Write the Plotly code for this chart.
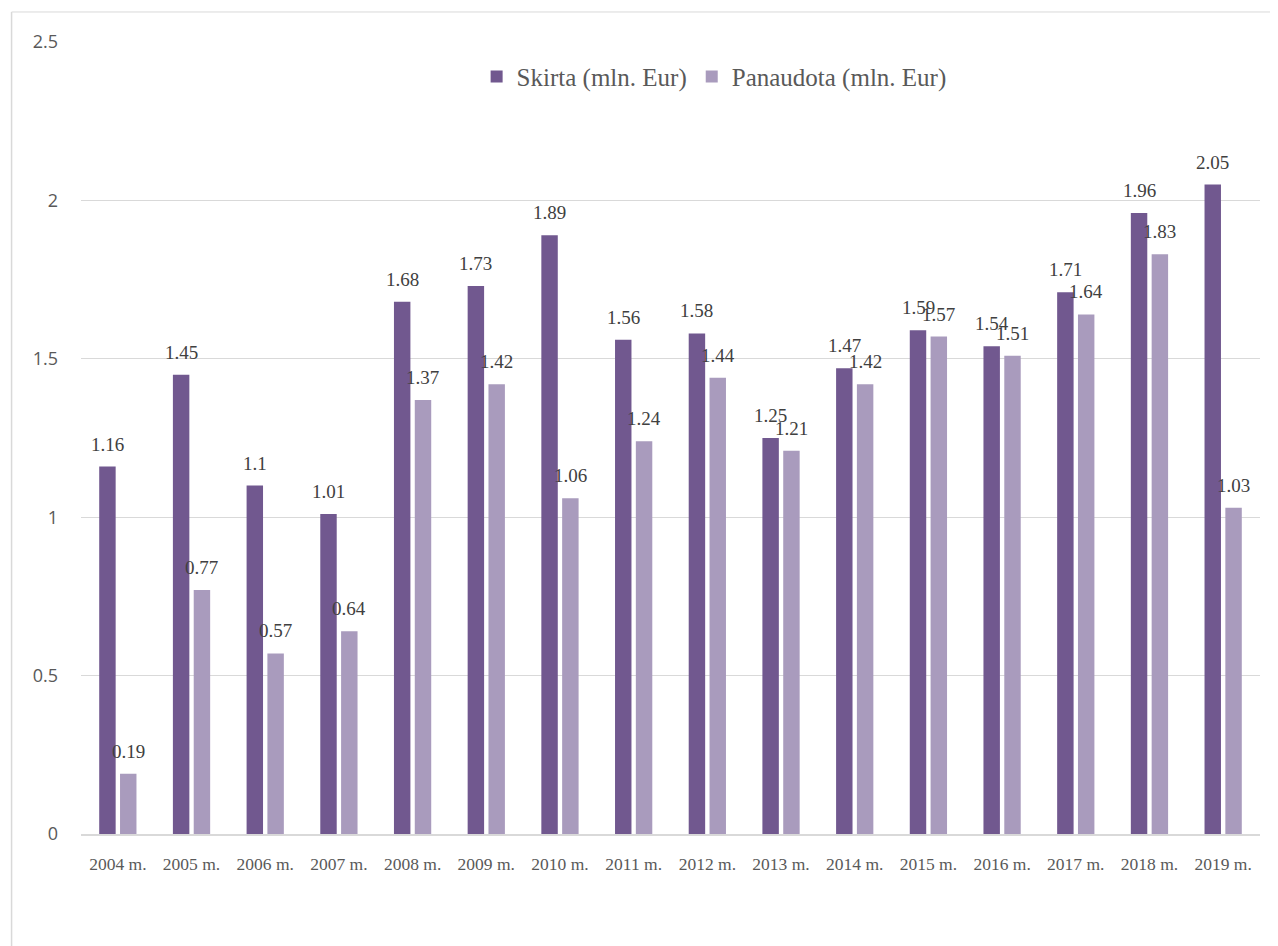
import plotly.graph_objects as go

years = ["2004 m.", "2005 m.", "2006 m.", "2007 m.", "2008 m.", "2009 m.", "2010 m.", "2011 m.",
         "2012 m.", "2013 m.", "2014 m.", "2015 m.", "2016 m.", "2017 m.", "2018 m.", "2019 m."]
skirta = [1.16, 1.45, 1.1, 1.01, 1.68, 1.73, 1.89, 1.56, 1.58, 1.25, 1.47, 1.59, 1.54, 1.71, 1.96, 2.05]
panaudota = [0.19, 0.77, 0.57, 0.64, 1.37, 1.42, 1.06, 1.24, 1.44, 1.21, 1.42, 1.57, 1.51, 1.64, 1.83, 1.03]
series_names = ["Skirta (mln. Eur)", "Panaudota (mln. Eur)"]
y_ticks = [0, 0.5, 1, 1.5, 2, 2.5]

DARK = "#71588F"
LIGHT = "#A99BBD"
SERIF = "Liberation Serif"
SANS = "Open Sans"
TXT = "#595959"

fig = go.Figure()
fig.add_trace(go.Bar(x=years, y=skirta, name=series_names[0], marker_color=DARK,
                     marker_line_width=0))
fig.add_trace(go.Bar(x=years, y=panaudota, name=series_names[1], marker_color=LIGHT,
                     marker_line_width=0))

annotations = []
for vals, shift in ((skirta, -10.4), (panaudota, 10.4)):
    for yr, v in zip(years, vals):
        annotations.append(dict(x=yr, y=v, xref="x", yref="y", text=f"{v:g}",
                                showarrow=False, xshift=shift, yshift=10,
                                yanchor="bottom", xanchor="center",
                                font=dict(family=SERIF, size=19, color="#404040")))

fig.update_layout(
    width=1270, height=938,
    paper_bgcolor="white", plot_bgcolor="white",
    margin=dict(l=73, r=18, t=34, b=112),
    barmode="group", bargap=0.435, bargroupgap=0.21,
    showlegend=True,
    legend=dict(orientation="h", x=0.537, y=0.956, xanchor="center", yanchor="middle",
                font=dict(family=SERIF, size=25, color=TXT), itemwidth=30,
                traceorder="normal", bgcolor="rgba(0,0,0,0)"),
    annotations=annotations,
    shapes=[
        dict(type="line", xref="paper", yref="paper", x0=-0.0589, x1=-0.0589, y0=1.0379, y1=-0.145,
             line=dict(color="#d9d9d9", width=1.5)),
        dict(type="line", xref="paper", yref="paper", x0=-0.0589, x1=1.02, y0=1.0379, y1=1.0379,
             line=dict(color="#d9d9d9", width=1)),
    ],
)
fig.update_yaxes(range=[0, 2.5], tickvals=y_ticks, ticktext=[f"{t:g}" for t in y_ticks],
                 showgrid=True, gridcolor="#d9d9d9", gridwidth=1.2,
                 zeroline=False, showline=False, ticks="", ticklabelstandoff=22,
                 tickfont=dict(family=SANS, size=18, color=TXT))
fig.update_xaxes(type="category", showgrid=False, showline=True, linecolor="#d9d9d9", linewidth=1.5,
                 ticks="", ticklabelstandoff=13,
                 tickfont=dict(family=SERIF, size=17.5, color=TXT))

fig.write_html("out.html")
